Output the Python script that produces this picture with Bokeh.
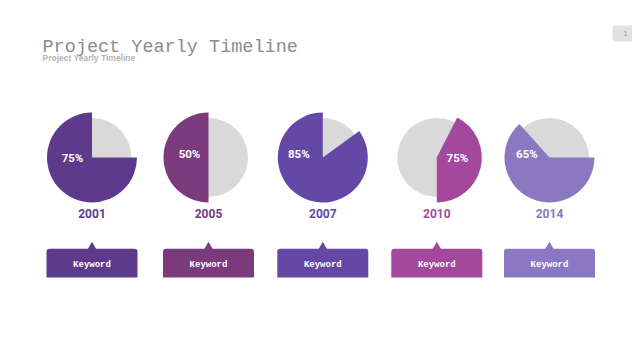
from bokeh.plotting import figure
from bokeh.models import Range1d, ColumnDataSource
from bokeh.core.properties import value
from bokeh.embed import file_html
from bokeh.resources import INLINE

# ---- data ----
years = ["2001", "2005", "2007", "2010", "2014"]
pct_labels = ["75%", "50%", "85%", "75%", "65%"]
# coloured slice, degrees clockwise from 12 o'clock
slice_start = [90, 180, 54, 27, 90]
slice_end = [360, 360, 360, 180, 318]
keywords = ["Keyword", "Keyword", "Keyword", "Keyword", "Keyword"]
title_text = "Project Yearly Timeline"
subtitle_text = "Project Yearly Timeline"
page_no = "1"

# ---- styles / layout ----
colors = ["#5d3a8b", "#7b3a7b", "#6547a6", "#a4489d", "#8a78c2"]
gray = "#d9d9d9"
W, H = 632, 352


def Y(page_y):
    return H - page_y


cx = [91.5, 208, 322.3, 436.3, 549]
cy = Y(157)
lab_dx = [-19.5, -19, -24, 20.6, -22.6]
lab_dy = [0, 3.5, 3.5, 0, 3.5]

p = figure(width=W, height=H, output_backend="svg", toolbar_location=None,
           x_range=Range1d(0, W), y_range=Range1d(0, H), min_border=0)
p.axis.visible = False
p.grid.visible = False
p.outline_line_color = None
p.background_fill_color = "white"
p.border_fill_color = "white"

# title
p.text(x=[42], y=[Y(46.5)], text=[title_text], text_font=value("Liberation Mono"),
       text_font_size="18.5px", text_color="#8c8c8c", text_baseline="alphabetic")
p.text(x=[42], y=[Y(57)], text=[subtitle_text], text_font=value("Liberation Sans"),
       text_font_size="8.5px", text_font_style="bold", text_color="#b4b4b4",
       text_baseline="middle")

# page number box
p.quad(left=[612], right=[652], top=[Y(25)], bottom=[Y(41)], fill_color="#e2e2e2",
       line_color=None, border_radius=3)
p.text(x=[625], y=[Y(33)], text=[page_no], text_font=value("Liberation Sans"),
       text_font_size="8px", text_color="#9a9a9a", text_align="center",
       text_baseline="middle")

src = ColumnDataSource(dict(
    x=cx, y=[cy] * 5,
    start=[90 - e for e in slice_end],
    end=[90 - s for s in slice_start],
    color=colors,
    year=years, pct=pct_labels, kw=keywords,
    lx=[c + d for c, d in zip(cx, lab_dx)],
    ly=[cy + d for d in lab_dy],
    yy=[Y(213)] * 5,
    bl=[c - 45.5 for c in cx], br=[c + 45.5 for c in cx],
    bt=[Y(248.3)] * 5, bb=[Y(277)] * 5,
    ty=[Y(247.5)] * 5, ky=[Y(264.3)] * 5,
))

# pies
p.circle(x="x", y="y", radius=39.5, source=src, fill_color=gray, line_color=None)
p.wedge(x="x", y="y", radius=45, start_angle="start", end_angle="end",
        start_angle_units="deg", end_angle_units="deg", source=src,
        fill_color="color", line_color=None)
p.text(x="lx", y="ly", text="pct", source=src, text_font=value("Roboto"),
       text_font_style="bold", text_font_size="11.5px", text_color="white",
       text_align="center", text_baseline="middle")

# years
p.text(x="x", y="yy", text="year", source=src, text_font=value("Roboto"),
       text_font_style="bold", text_font_size="12px", text_color="color",
       text_align="center", text_baseline="middle")

# keyword boxes
p.quad(left="bl", right="br", top="bt", bottom="bb", source=src, fill_color="color",
       line_color=None, border_radius=(3, 3, 0, 0))
p.scatter(x="x", y="ty", marker="triangle", size=11, source=src, fill_color="color",
          line_color=None)
p.text(x="x", y="ky", text="kw", source=src, text_font=value("Liberation Mono"),
       text_font_style="bold", text_font_size="9px", text_color="white",
       text_align="center", text_baseline="middle")

open("out.html", "w").write(file_html(p, INLINE))
